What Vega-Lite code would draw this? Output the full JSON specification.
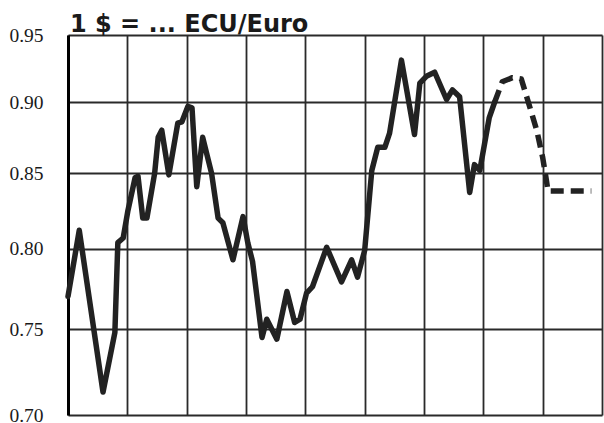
{
  "$schema": "https://vega.github.io/schema/vega-lite/v6.json",
  "width": 534,
  "height": 380,
  "autosize": {"type": "none"},
  "padding": {"left": 68, "top": 35, "right": 2, "bottom": 8},
  "background": "white",
  "title": {
    "text": "1 $ = ... ECU/Euro",
    "anchor": "start",
    "frame": "group",
    "font": "DejaVu Sans",
    "fontSize": 24,
    "fontWeight": "bold",
    "color": "#1a1a1a",
    "baseline": "alphabetic",
    "offset": 0,
    "dx": 2,
    "dy": 31
  },
  "config": {"view": {"stroke": null}},
  "data": {
    "values": [
      {"t": 1992.00, "v": 0.770, "s": "actual"},
      {"t": 1992.19, "v": 0.812, "s": "actual"},
      {"t": 1992.59, "v": 0.713, "s": "actual"},
      {"t": 1992.79, "v": 0.748, "s": "actual"},
      {"t": 1992.84, "v": 0.804, "s": "actual"},
      {"t": 1992.93, "v": 0.807, "s": "actual"},
      {"t": 1993.01, "v": 0.825, "s": "actual"},
      {"t": 1993.13, "v": 0.847, "s": "actual"},
      {"t": 1993.18, "v": 0.848, "s": "actual"},
      {"t": 1993.26, "v": 0.820, "s": "actual"},
      {"t": 1993.33, "v": 0.820, "s": "actual"},
      {"t": 1993.46, "v": 0.850, "s": "actual"},
      {"t": 1993.52, "v": 0.875, "s": "actual"},
      {"t": 1993.58, "v": 0.880, "s": "actual"},
      {"t": 1993.70, "v": 0.849, "s": "actual"},
      {"t": 1993.85, "v": 0.885, "s": "actual"},
      {"t": 1993.92, "v": 0.886, "s": "actual"},
      {"t": 1994.02, "v": 0.897, "s": "actual"},
      {"t": 1994.09, "v": 0.896, "s": "actual"},
      {"t": 1994.17, "v": 0.841, "s": "actual"},
      {"t": 1994.27, "v": 0.875, "s": "actual"},
      {"t": 1994.42, "v": 0.850, "s": "actual"},
      {"t": 1994.53, "v": 0.820, "s": "actual"},
      {"t": 1994.61, "v": 0.817, "s": "actual"},
      {"t": 1994.78, "v": 0.793, "s": "actual"},
      {"t": 1994.95, "v": 0.821, "s": "actual"},
      {"t": 1995.03, "v": 0.804, "s": "actual"},
      {"t": 1995.11, "v": 0.792, "s": "actual"},
      {"t": 1995.27, "v": 0.745, "s": "actual"},
      {"t": 1995.35, "v": 0.756, "s": "actual"},
      {"t": 1995.52, "v": 0.744, "s": "actual"},
      {"t": 1995.69, "v": 0.773, "s": "actual"},
      {"t": 1995.82, "v": 0.754, "s": "actual"},
      {"t": 1995.91, "v": 0.756, "s": "actual"},
      {"t": 1996.02, "v": 0.772, "s": "actual"},
      {"t": 1996.12, "v": 0.776, "s": "actual"},
      {"t": 1996.36, "v": 0.801, "s": "actual"},
      {"t": 1996.61, "v": 0.779, "s": "actual"},
      {"t": 1996.78, "v": 0.793, "s": "actual"},
      {"t": 1996.88, "v": 0.782, "s": "actual"},
      {"t": 1997.00, "v": 0.799, "s": "actual"},
      {"t": 1997.12, "v": 0.852, "s": "actual"},
      {"t": 1997.22, "v": 0.868, "s": "actual"},
      {"t": 1997.34, "v": 0.868, "s": "actual"},
      {"t": 1997.42, "v": 0.878, "s": "actual"},
      {"t": 1997.62, "v": 0.931, "s": "actual"},
      {"t": 1997.84, "v": 0.877, "s": "actual"},
      {"t": 1997.93, "v": 0.914, "s": "actual"},
      {"t": 1998.04, "v": 0.919, "s": "actual"},
      {"t": 1998.18, "v": 0.922, "s": "actual"},
      {"t": 1998.38, "v": 0.902, "s": "actual"},
      {"t": 1998.48, "v": 0.909, "s": "actual"},
      {"t": 1998.60, "v": 0.904, "s": "actual"},
      {"t": 1998.77, "v": 0.837, "s": "actual"},
      {"t": 1998.85, "v": 0.856, "s": "actual"},
      {"t": 1998.94, "v": 0.852, "s": "actual"},
      {"t": 1999.10, "v": 0.889, "s": "actual"},
      {"t": 1999.19, "v": 0.900, "s": "actual"},
      {"t": 1999.19, "v": 0.900, "s": "forecast"},
      {"t": 1999.32, "v": 0.915, "s": "forecast"},
      {"t": 1999.49, "v": 0.918, "s": "forecast"},
      {"t": 1999.64, "v": 0.917, "s": "forecast"},
      {"t": 1999.78, "v": 0.897, "s": "forecast"},
      {"t": 1999.90, "v": 0.880, "s": "forecast"},
      {"t": 2000.00, "v": 0.861, "s": "forecast"},
      {"t": 2000.06, "v": 0.846, "s": "forecast"},
      {"t": 2000.09, "v": 0.838, "s": "forecast"},
      {"t": 2000.82, "v": 0.838, "s": "forecast"}
    ]
  },
  "encoding": {
    "x": {
      "field": "t",
      "type": "quantitative",
      "scale": {"domain": [1992, 2001], "nice": false, "zero": false},
      "axis": {
        "title": null,
        "labels": false,
        "ticks": false,
        "domain": false,
        "grid": true,
        "values": [1992, 1993, 1994, 1995, 1996, 1997, 1998, 1999, 2000, 2001],
        "gridColor": "#2a2a2a",
        "gridWidth": 1.8,
        "gridOpacity": 1
      }
    },
    "y": {
      "field": "v",
      "type": "quantitative",
      "scale": {"type": "log", "domain": [0.70, 0.95], "nice": false, "zero": false},
      "axis": {
        "title": null,
        "values": [0.70, 0.75, 0.80, 0.85, 0.90, 0.95],
        "format": ".2f",
        "ticks": false,
        "labelPadding": 25,
        "labelFont": "Liberation Serif",
        "labelFontSize": 19.5,
        "labelColor": "#1a1a1a",
        "domain": true,
        "domainColor": "#000000",
        "domainWidth": 3,
        "grid": true,
        "gridColor": "#2a2a2a",
        "gridWidth": 1.8,
        "gridOpacity": 1
      }
    }
  },
  "layer": [
    {
      "transform": [{"filter": "datum.s === 'actual'"}],
      "mark": {"type": "line", "color": "#222222", "strokeWidth": 5.5, "strokeJoin": "round", "strokeCap": "round"}
    },
    {
      "transform": [{"filter": "datum.s === 'forecast'"}],
      "mark": {"type": "line", "color": "#222222", "strokeWidth": 5.5, "strokeDash": [13, 7], "strokeJoin": "round"}
    }
  ]
}
